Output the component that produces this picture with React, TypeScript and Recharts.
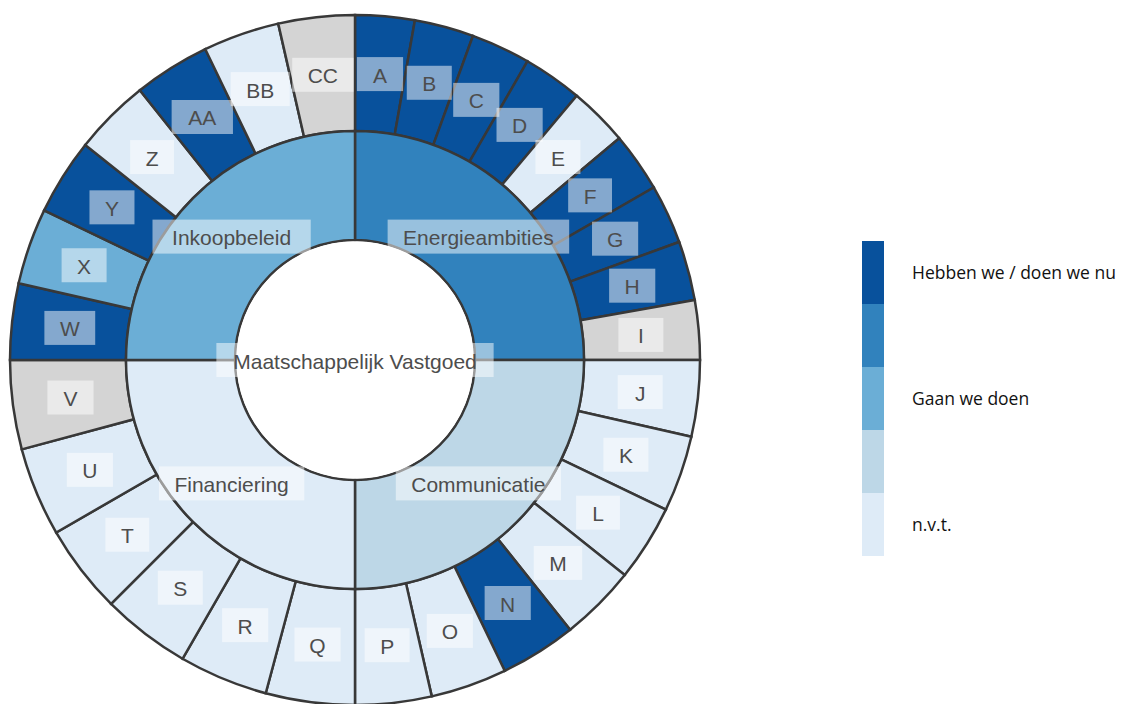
import { PieChart, Pie, Legend } from 'recharts';

// outer ring: one cell per item, sizes follow the four equal quadrants
const outerLabels = [
  'A', 'B', 'C', 'D', 'E', 'F', 'G', 'H', 'I',
  'J', 'K', 'L', 'M', 'N', 'O', 'P',
  'Q', 'R', 'S', 'T', 'U', 'V',
  'W', 'X', 'Y', 'Z', 'AA', 'BB', 'CC',
];
const outerStatus = [
  'nu', 'nu', 'nu', 'nu', 'nvt', 'nu', 'nu', 'nu', 'leeg',
  'nvt', 'nvt', 'nvt', 'nvt', 'nu', 'nvt', 'nvt',
  'nvt', 'nvt', 'nvt', 'nvt', 'nvt', 'leeg',
  'nu', 'gaan', 'nu', 'nvt', 'nu', 'nvt', 'leeg',
];
const outerSizes = [
  10, 10, 10, 10, 10, 10, 10, 10, 10,
  12.86, 12.86, 12.86, 12.86, 12.86, 12.86, 12.86,
  15, 15, 15, 15, 15, 15,
  12.86, 12.86, 12.86, 12.86, 12.86, 12.86, 12.86,
];

// inner ring
const innerLabels = ['Energieambities', 'Communicatie', 'Financiering', 'Inkoopbeleid'];
const innerSizes = [90, 90, 90, 90];
const innerColors = ['#3182bd', '#bdd7e7', '#deebf7', '#6baed6'];

const centerLabel = 'Maatschappelijk Vastgoed';

const statusColors: Record<string, string> = {
  nu: '#08519c',
  gaan: '#6baed6',
  nvt: '#deebf7',
  leeg: '#d4d4d4',
};

const legendColors = ['#08519c', '#3182bd', '#6baed6', '#bdd7e7', '#deebf7'];
const legendLabels = ['Hebben we / doen we nu', '', 'Gaan we doen', '', 'n.v.t.'];

const outerData = outerLabels.map((name, i) => ({
  name,
  value: outerSizes[i],
  fill: statusColors[outerStatus[i]],
}));
const innerData = innerLabels.map((name, i) => ({
  name,
  value: innerSizes[i],
  fill: innerColors[i],
}));
const centerData = [{ name: centerLabel, value: 1, fill: '#ffffff' }];

const RADIAN = Math.PI / 180;
const FONT = 21;

// rough Arial widths (em) so the label boxes fit the text
const charWidth = (c: string) => {
  if ('ijl.'.includes(c)) return 0.222;
  if ('ft '.includes(c)) return 0.278;
  if (c === 'r') return 0.333;
  if (c === 'm' || c === 'M') return 0.833;
  if (c === 'W') return 0.944;
  if (c === 'w' || 'ACDGHNOQRUV'.includes(c)) return 0.722;
  if ('ckvsxyz'.includes(c)) return 0.5;
  if ('FLTZ'.includes(c)) return 0.611;
  if (c === c.toUpperCase()) return 0.667;
  return 0.556;
};
const textWidth = (s: string) => s.split('').reduce((a, c) => a + charWidth(c), 0) * FONT;

const BoxText = ({ x, y, text }: { x: number; y: number; text: string }) => {
  const w = textWidth(text) + 31;
  const h = 34;
  return (
    <g>
      <rect x={x - w / 2} y={y - h / 2} width={w} height={h} fill="#ffffff" fillOpacity={0.5} />
      <text
        x={x}
        y={y + 1}
        textAnchor="middle"
        dominantBaseline="central"
        fontFamily="'Liberation Sans', Arial, sans-serif"
        fontSize={FONT}
        fill="#4d4d4d"
      >
        {text}
      </text>
    </g>
  );
};

const renderRingLabel = (props: any) => {
  const { cx, cy, midAngle, innerRadius, outerRadius, name } = props;
  const r = (innerRadius + outerRadius) / 2;
  const x = cx + r * Math.cos(-midAngle * RADIAN);
  const y = cy + r * Math.sin(-midAngle * RADIAN);
  return <BoxText x={x} y={y} text={name} />;
};

const renderCenterLabel = (props: any) => {
  const { cx, cy, name } = props;
  return <BoxText x={cx} y={cy} text={name} />;
};

const renderLegend = () => (
  <div style={{ position: 'relative', width: 260, height: 316 }}>
    {legendColors.map((color, i) => (
      <div
        key={color}
        style={{ position: 'absolute', left: 0, top: i * 63, width: 22, height: 63, background: color }}
      />
    ))}
    {legendLabels.map((label, i) =>
      label ? (
        <div
          key={label}
          style={{
            position: 'absolute',
            left: 50,
            top: i * 63 + 19,
            fontFamily: "'Open Sans', sans-serif",
            fontSize: 17.5,
            lineHeight: '24px',
            color: '#111',
            whiteSpace: 'nowrap',
          }}
        >
          {label}
        </div>
      ) : null
    )}
  </div>
);

export default function App() {
  return (
    <div style={{ position: 'absolute', left: 0, top: 0, width: 1122, height: 704, overflow: 'hidden', background: '#fff' }}>
      <PieChart width={1122} height={704} margin={{ top: 0, right: 0, bottom: 0, left: 0 }}>
        <Pie
          data={outerData}
          dataKey="value"
          nameKey="name"
          cx={355}
          cy={360}
          innerRadius={229}
          outerRadius={345}
          startAngle={90}
          endAngle={-270}
          stroke="#383838"
          strokeWidth={2.5}
          label={renderRingLabel}
          labelLine={false}
          isAnimationActive={false}
        />
        <Pie
          data={innerData}
          dataKey="value"
          nameKey="name"
          cx={355}
          cy={360}
          innerRadius={120}
          outerRadius={229}
          startAngle={90}
          endAngle={-270}
          stroke="#383838"
          strokeWidth={2.5}
          label={renderRingLabel}
          labelLine={false}
          isAnimationActive={false}
        />
        <Pie
          data={centerData}
          dataKey="value"
          nameKey="name"
          cx={355}
          cy={360}
          innerRadius={0}
          outerRadius={118.5}
          startAngle={90}
          endAngle={-270}
          stroke="none"
          label={renderCenterLabel}
          labelLine={false}
          isAnimationActive={false}
        />
        <Legend
          content={renderLegend}
          wrapperStyle={{ position: 'absolute', left: 862, top: 241, width: 260 }}
        />
      </PieChart>
    </div>
  );
}
